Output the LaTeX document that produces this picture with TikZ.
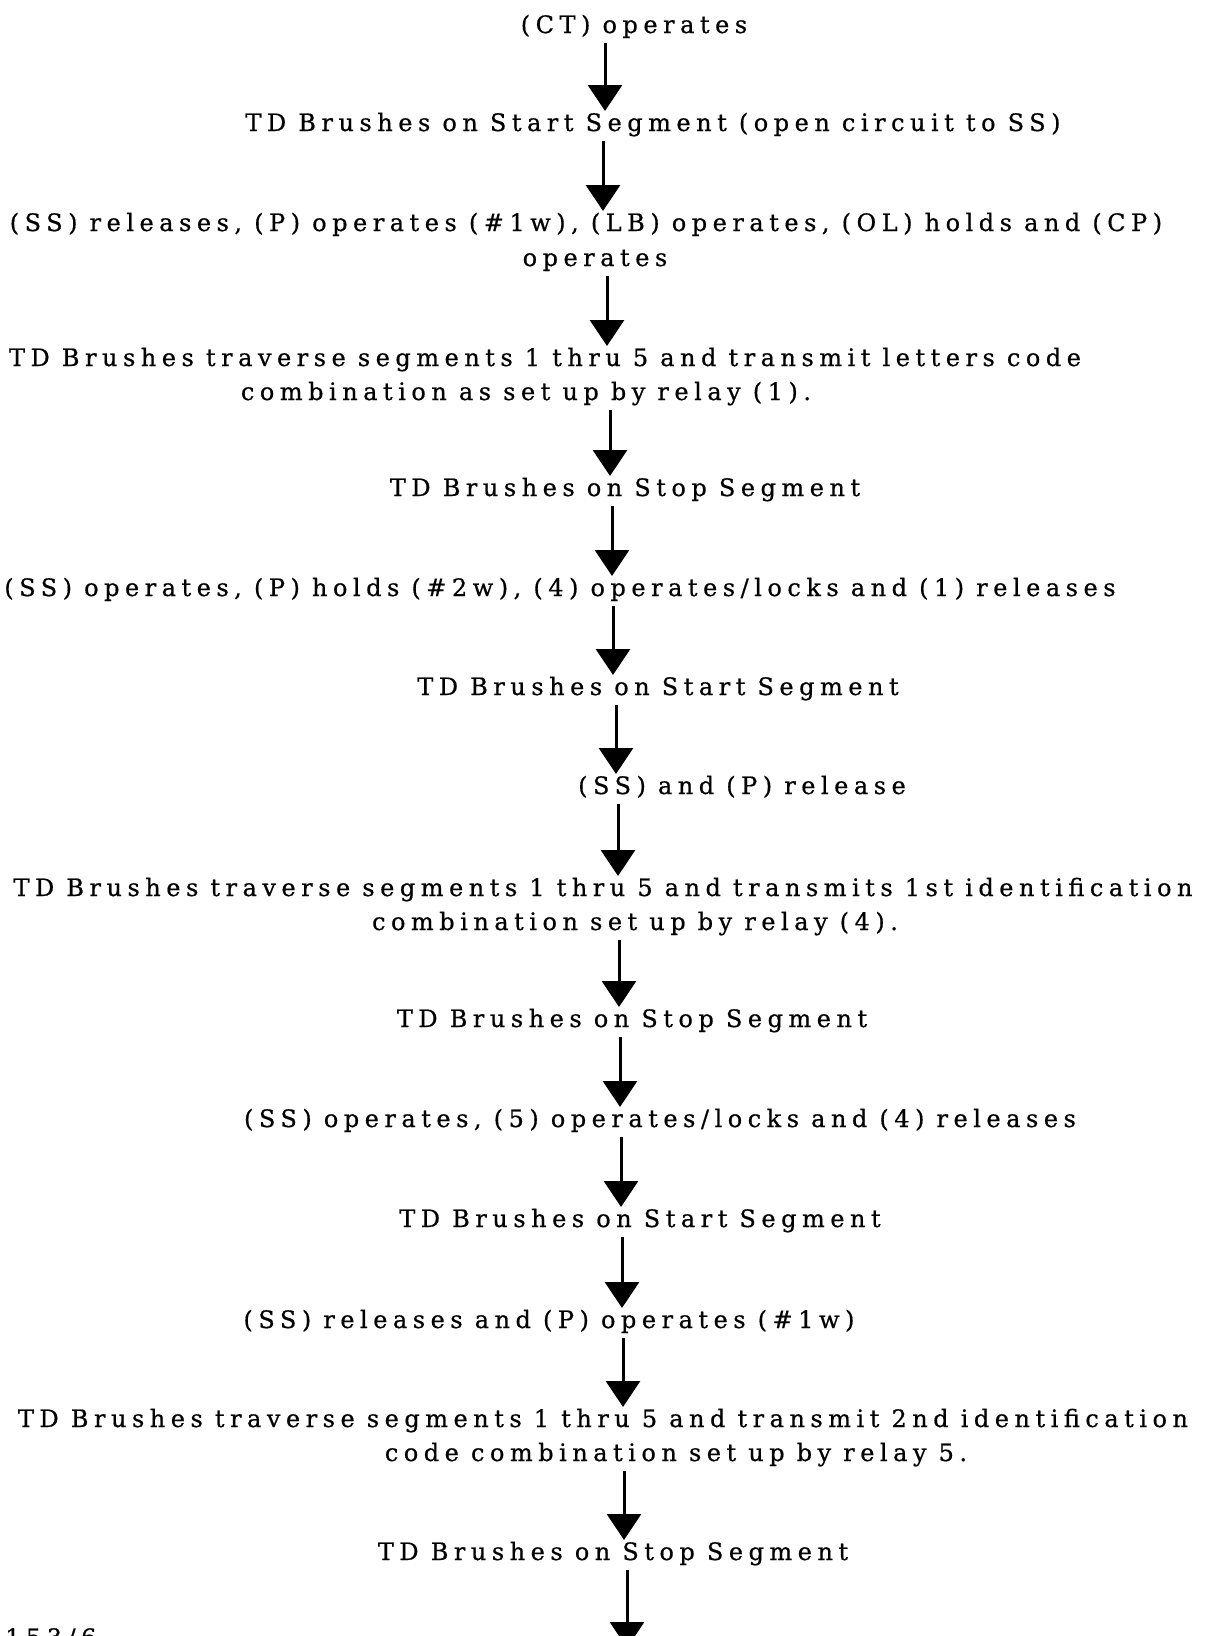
\documentclass[tikz,border=0pt]{standalone}
\usepackage{fontspec}
\setmainfont{DejaVu Serif}[LetterSpace=23,FakeBold=0.6,WordSpace=0.92]
\usetikzlibrary{arrows.meta}
\begin{document}
\begin{tikzpicture}[x=1pt,y=-1pt,
  txt/.style={anchor=base,inner sep=0pt,font=\fontsize{24}{30}\selectfont},
  arr/.style={line width=3pt,-{Triangle[width=34pt,length=26pt]},shorten <=10pt,shorten >=20pt}]
\useasboundingbox[fill=white] (0,0) rectangle (1205,1636);
\node[txt] (l1) at (634,33) {(CT) operates};
\node[txt] (l2) at (653,131) {TD Brushes on Start Segment (open circuit to SS)};
\node[txt] (l3a) at (586,231) {(SS) releases, (P) operates (\#1w), (LB) operates, (OL) holds and (CP)};
\node[txt] (l3b) at (595,266) {operates};
\node[txt] (l4a) at (545,366) {TD Brushes traverse segments 1 thru 5 and transmit letters code};
\node[txt] (l4b) at (526,400) {combination as set up by relay (1).};
\node[txt] (l5) at (625,496) {TD Brushes on Stop Segment};
\node[txt] (l6) at (560,596) {(SS) operates, (P) holds (\#2w), (4) operates/locks and (1) releases};
\node[txt] (l7) at (658,695) {TD Brushes on Start Segment};
\node[txt] (l8) at (742,794) {(SS) and (P) release};
\node[txt] (l9a) at (603,896) {TD Brushes traverse segments 1 thru 5 and transmits 1st identification};
\node[txt] (l9b) at (635,930) {combination set up by relay (4).};
\node[txt] (l10) at (632,1027) {TD Brushes on Stop Segment};
\node[txt] (l11) at (660,1127) {(SS) operates, (5) operates/locks and (4) releases};
\node[txt] (l12) at (640,1227) {TD Brushes on Start Segment};
\node[txt] (l13) at (549,1328) {(SS) releases and (P) operates (\#1w)};
\node[txt] (l14a) at (603,1427) {TD Brushes traverse segments 1 thru 5 and transmit 2nd identification};
\node[txt] (l14b) at (676,1461) {code combination set up by relay 5.};
\node[txt] (l15) at (613,1560) {TD Brushes on Stop Segment};
\node[txt,anchor=base west] (pg) at (5,1646) {153/6};
\coordinate (end) at (627,1648);
\draw[arr] (l1.base -| 605,0) -- (l2.base -| 605,0);
\draw[arr] (l2.base -| 603,0) -- (l3a.base -| 603,0);
\draw[arr] (l3b.base -| 607,0) -- (l4a.base -| 607,0);
\draw[arr] (l4b.base -| 610,0) -- (l5.base -| 610,0);
\draw[arr] (l5.base -| 612,0) -- (l6.base -| 612,0);
\draw[arr] (l6.base -| 613,0) -- (l7.base -| 613,0);
\draw[arr] (l7.base -| 616,0) -- (l8.base -| 616,0);
\draw[arr] (l8.base -| 618,0) -- (l9a.base -| 618,0);
\draw[arr] (l9b.base -| 619,0) -- (l10.base -| 619,0);
\draw[arr] (l10.base -| 620,0) -- (l11.base -| 620,0);
\draw[arr] (l11.base -| 621,0) -- (l12.base -| 621,0);
\draw[arr] (l12.base -| 622,0) -- (l13.base -| 622,0);
\draw[arr] (l13.base -| 623,0) -- (l14a.base -| 623,0);
\draw[arr] (l14b.base -| 624,0) -- (l15.base -| 624,0);
\draw[arr,shorten >=0pt] (l15.base -| 627,0) -- (end);
\end{tikzpicture}
\end{document}
